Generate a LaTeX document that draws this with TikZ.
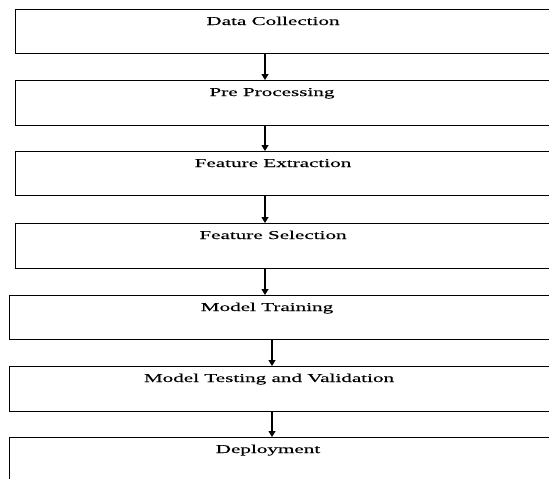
\documentclass[tikz,border=0pt]{standalone}
\usepackage{fontspec}
\setmainfont{Liberation Serif}
\usetikzlibrary{arrows.meta}

\begin{document}
\begin{tikzpicture}[x=1pt, y=-1pt,
      box/.style = {shape=rectangle, draw, line width=1pt,
        anchor=north west, minimum width=560pt, minimum height=44pt},
      step text/.style = {anchor=base, inner sep=0pt,
        font=\fontsize{12}{14}\addfontfeature{FakeStretch=1.76,FakeBold=0.15}\selectfont},
      flow/.style = {draw, line width=1.1pt, -{Triangle[length=6pt, width=7pt]}}]
  \clip (0,0) rectangle (549,479);
  % boxes
  \node[box] (dc) at (15,9) {};
  \node[box, minimum height=45pt] (pp) at (15,80) {};
  \node[box] (fe) at (15,151) {};
  \node[box, minimum height=45pt] (fs) at (15,223) {};
  \node[box] (mt) at (9,295) {};
  \node[box, minimum height=45pt] (mv) at (9,366) {};
  \node[box, minimum height=60pt] (dp) at (9,437) {};
  % texts
  \node[step text] (dct) at (273,25) {Data Collection};
  \node[step text] (ppt) at (272,96) {Pre Processing};
  \node[step text] (fet) at (273,167) {Feature Extraction};
  \node[step text] (fst) at (273,239) {Feature Selection};
  \node[step text] (mtt) at (267,311) {Model Training};
  \node[step text] (mvt) at (269,382) {Model Testing and Validation};
  \node[step text] (dpt) at (268,453) {Deployment};
  % arrows
  \draw[flow] ([xshift=250pt]dc.south west) -- ([xshift=250pt]pp.north west);
  \draw[flow] ([xshift=250pt]pp.south west) -- ([xshift=250pt]fe.north west);
  \draw[flow] ([xshift=250pt]fe.south west) -- ([xshift=250pt]fs.north west);
  \draw[flow] ([xshift=250pt]fs.south west) -- ([xshift=256pt]mt.north west);
  \draw[flow] ([xshift=263pt]mt.south west) -- ([xshift=263pt]mv.north west);
  \draw[flow] ([xshift=263pt]mv.south west) -- ([xshift=263pt]dp.north west);
\end{tikzpicture}
\end{document}
